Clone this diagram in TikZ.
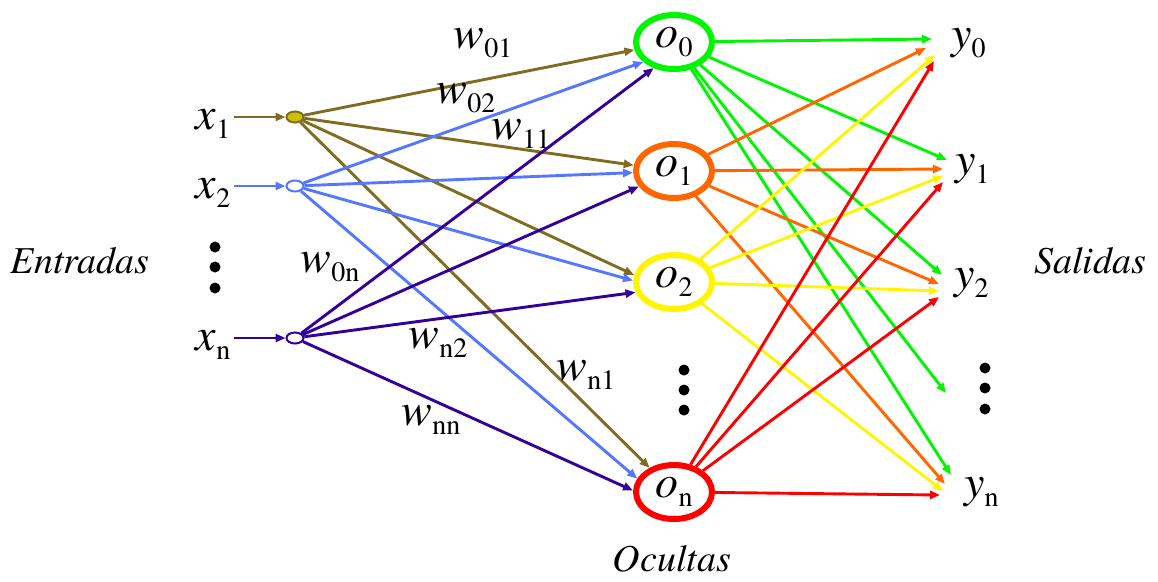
\documentclass[tikz,border=0pt]{standalone}
\usepackage{fontspec}
\setmainfont{TeX Gyre Termes}
\usetikzlibrary{positioning,shapes.geometric,arrows.meta}

\definecolor{wolive}{RGB}{128,108,32}
\definecolor{wfill}{RGB}{204,192,0}
\definecolor{wblue}{RGB}{85,119,255}
\definecolor{wpurple}{RGB}{51,0,153}
\definecolor{hgreen}{RGB}{0,245,0}
\definecolor{horange}{RGB}{255,102,0}
\definecolor{hyellow}{RGB}{255,245,0}
\definecolor{hred}{RGB}{255,0,0}

% variable with upright subscript
\newcommand{\vsub}[2]{\textit{#1}\raisebox{-0.21em}{\fontsize{28}{28}\selectfont #2}}

\begin{document}
\begin{tikzpicture}[
        x=1pt, y=-1pt,
        inp/.style={ellipse, draw, line width=2pt, fill=white, minimum width=17pt, minimum height=11pt, inner sep=0pt},
        hid/.style={ellipse, draw, line width=6pt, fill=white, minimum width=76pt, minimum height=54pt, inner sep=0pt, font=\fontsize{46}{52}\selectfont},
        lbl/.style={font=\fontsize{46}{52}\selectfont},
        wlbl/.style={lbl, inner sep=0pt},
        word/.style={font=\fontsize{38}{44}\selectfont\itshape},
        bigdot/.style={circle, fill=black, minimum size=11pt, inner sep=0pt},
        wire/.style={line width=2.9pt, -{Triangle[length=10pt,width=8pt]}}
    ]
    \useasboundingbox (0,0) rectangle (1158,581);

    % Input layer
    \node[inp, draw=wolive, fill=wfill] (x1) at (295,117) {};
    \node[inp, draw=wblue] (x2) at (295,186) {};
    \node[inp, draw=wpurple] (xn) at (295,338) {};
    \node[lbl] (x1lbl) at (213,124) {\vsub{x}{1}};
    \node[lbl] (x2lbl) at (213,193) {\vsub{x}{2}};
    \node[lbl] (xnlbl) at (213,345) {\vsub{x}{n}};
    \node[bigdot] (dl1) at (215,247) {};
    \node[bigdot] (dl2) at (215,267) {};
    \node[bigdot] (dl3) at (215,288) {};
    \node[word, anchor=base] (entradas) at (80,273) {Entradas};
    \draw[wire, wolive] (x1lbl.east |- x1) -- (x1);
    \draw[wire, wblue] (x2lbl.east |- x2) -- (x2);
    \draw[wire, wpurple] (xnlbl.east |- xn) -- (xn);

    % Hidden layer
    \node[hid, draw=hgreen] (o0) at (674,42) {\vsub{o}{0}};
    \node[hid, draw=horange] (o1) at (674,171) {\vsub{o}{1}};
    \node[hid, draw=hyellow] (o2) at (674,282) {\vsub{o}{2}};
    \node[hid, draw=hred] (on) at (674,492) {\vsub{o}{n}};
    \node[bigdot] (dm1) at (684,370) {};
    \node[bigdot] (dm2) at (684,390) {};
    \node[bigdot] (dm3) at (684,410) {};
    \node[word, anchor=base] (ocultas) at (672,571) {Ocultas};

    % Output layer
    \coordinate (t0) at (932,50);
    \coordinate (t1) at (943,171);
    \coordinate (t2) at (939,286);
    \coordinate (tdots) at (946,393);
    \coordinate (tn) at (945,486);
    \node[lbl, anchor=base west, inner sep=0pt] (y0) at (951,48) {\vsub{y}{0}};
    \node[lbl, anchor=base west, inner sep=0pt] (y1) at (955,174) {\vsub{y}{1}};
    \node[lbl, anchor=base west, inner sep=0pt] (y2) at (954,288) {\vsub{y}{2}};
    \node[lbl, anchor=base west, inner sep=0pt] (yn) at (964,497) {\vsub{y}{n}};
    \node[bigdot] (dr1) at (985,368) {};
    \node[bigdot] (dr2) at (985,388) {};
    \node[bigdot] (dr3) at (985,409) {};
    \node[word, anchor=base] (salidas) at (1090,273) {Salidas};

    % Weights input -> hidden
    \draw[wire, wolive] (x1) -- (o0);
    \draw[wire, wolive] (x1) -- (o1);
    \draw[wire, wolive] (x1) -- (o2.170);
    \draw[wire, wolive] (x1) -- (on);
    \draw[wire, wblue] (x2) -- (o0.213);
    \draw[wire, wblue] (x2) -- (o1);
    \draw[wire, wblue] (x2) -- (o2.178);
    \draw[wire, wblue] (x2) -- (on.160);
    \draw[wire, wpurple] (xn) -- (o0.232);
    \draw[wire, wpurple] (xn) -- (o1);
    \draw[wire, wpurple] (xn) -- (o2.195);
    \draw[wire, wpurple] (xn) -- (on.178);

    \node[wlbl] (w01) at (483,43) {\vsub{w}{01}};
    \node[wlbl] (w02) at (466,98) {\vsub{w}{02}};
    \node[wlbl] (w11) at (521,134) {\vsub{w}{11}};
    \node[wlbl] (w0n) at (330,267) {\vsub{w}{0n}};
    \node[wlbl] (wn2) at (438,343) {\vsub{w}{n2}};
    \node[wlbl] (wnn) at (431,420) {\vsub{w}{nn}};
    \node[wlbl] (wn1) at (586,375) {\vsub{w}{n1}};

    % Weights hidden -> output
    \draw[wire, hgreen] (o0) -- ([yshift=11pt]t0);
    \draw[wire, hgreen] (o0) -- ([yshift=11pt,xshift=4pt]t1);
    \draw[wire, hgreen] (o0) -- ([yshift=11pt,xshift=3pt]t2);
    \draw[wire, hgreen] (o0) -- (tdots);
    \draw[wire, hgreen] (o0) -- ([yshift=11pt,xshift=6pt]tn);
    \draw[wire, horange] (o1) -- ([yshift=2pt,xshift=-6pt]t0);
    \draw[wire, horange] (o1) -- ([yshift=2pt]t1);
    \draw[wire, horange] (o1) -- ([yshift=2pt]t2);
    \draw[wire, horange] (o1) -- ([yshift=2pt]tn);
    \draw[wire, hyellow] (o2) -- ([yshift=-5pt,xshift=3pt]t0);
    \draw[wire, hyellow] (o2) -- ([yshift=-5pt]t1);
    \draw[wire, hyellow] (o2) -- ([yshift=-5pt]t2);
    \draw[wire, hyellow] (o2) -- ([yshift=-5pt,xshift=-2pt]tn);
    \draw[wire, hred] (on) -- ([yshift=-11pt,xshift=2pt]t0);
    \draw[wire, hred] (on) -- ([yshift=-11pt]t1);
    \draw[wire, hred] (on) -- ([yshift=-11pt]t2);
    \draw[wire, hred] (on) -- ([yshift=-9pt,xshift=-5pt]tn);

\end{tikzpicture}
\end{document}
